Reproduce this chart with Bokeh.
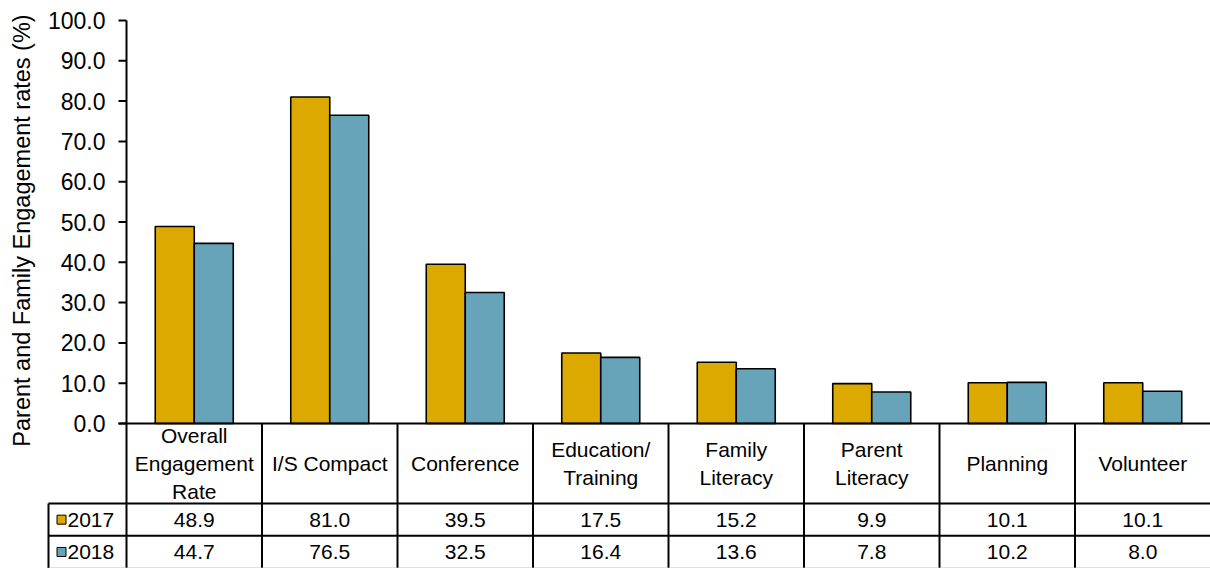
import numpy as np
from bokeh.plotting import figure
from bokeh.models import Range1d
from bokeh.embed import file_html
from bokeh.resources import INLINE
from bokeh.core.properties import value

# ---------------- data ----------------
categories = ["Overall\nEngagement\nRate", "I/S Compact", "Conference",
              "Education/\nTraining", "Family\nLiteracy", "Parent\nLiteracy",
              "Planning", "Volunteer"]
series_names = ["2017", "2018"]
values_2017 = [48.9, 81.0, 39.5, 17.5, 15.2, 9.9, 10.1, 10.1]
values_2018 = [44.7, 76.5, 32.5, 16.4, 13.6, 7.8, 10.2, 8.0]
y_ticks = [0, 10, 20, 30, 40, 50, 60, 70, 80, 90, 100]
tick_labels = ["%.1f" % t for t in y_ticks]
y_label = "Parent and Family Engagement rates (%)"

# ---------------- style / layout ----------------
FONT = "Liberation Sans"
COLORS = ["#DBA900", "#68A4B9"]
W, H = 1210, 568
AXIS_X = 126          # pixel column of the value axis
BASE_Y = 423          # pixel row of value 0
N = len(categories)
PX_PER_CAT = (W - AXIS_X) / N
PX_PER_VAL = 4.03
LINE_W = 2
BAR_PX = 39
TICK_PX = 8
HEADER_PX = 80
ROW_PX = 32.3
TABLE_LEFT_PX = 78


def dx(px):
    return px / PX_PER_CAT


def dy(px):
    return px / PX_PER_VAL


x0, x1 = -dx(AXIS_X), dx(W - AXIS_X)
y0, y1 = -dy(H - BASE_Y), dy(BASE_Y)

p = figure(width=W, height=H, x_range=Range1d(x0, x1), y_range=Range1d(y0, y1),
           x_axis_location=None, y_axis_location=None,
           output_backend="svg", toolbar_location=None,
           min_border_left=0, min_border_right=0,
           min_border_top=0, min_border_bottom=0)
p.grid.visible = False
p.outline_line_color = None
p.background_fill_color = "white"

idx = np.arange(N)
centers = idx + 0.5
bar_w = dx(BAR_PX)

# ---------------- bars ----------------
for k, (vals, col) in enumerate(zip([values_2017, values_2018], COLORS)):
    offset = (k - 0.5) * bar_w
    p.vbar(x=centers + offset, top=vals, bottom=0, width=bar_w,
           fill_color=col, line_color="black", line_width=1.6)

# ---------------- value axis ----------------
ymax = max(y_ticks)
p.segment(x0=[0], y0=[ymax], x1=[0], y1=[y0], line_color="black",
          line_width=LINE_W)
nt = len(y_ticks)
p.segment(x0=[-dx(TICK_PX)] * nt, y0=y_ticks, x1=[0] * nt, y1=y_ticks,
          line_color="black", line_width=LINE_W)
p.text(x=[-dx(TICK_PX + 13)] * nt, y=y_ticks, text=tick_labels,
       text_align="right", text_baseline="middle",
       text_font=value(FONT), text_font_size="23px", text_color="black")
p.text(x=[-dx(AXIS_X - 21)], y=[ymax / 2 - dy(8.5)], text=[y_label],
       angle=np.pi / 2, text_align="center", text_baseline="middle",
       text_font=value(FONT), text_font_size="23.5px", text_color="black")

# baseline (category axis)
p.segment(x0=[-dx(TICK_PX)], y0=[0], x1=[x1], y1=[0],
          line_color="black", line_width=LINE_W)

# ---------------- data table ----------------
x_tl = -dx(TABLE_LEFT_PX)
y_r1 = -dy(HEADER_PX)
y_r2 = -dy(HEADER_PX + ROW_PX)
y_r3 = -dy(HEADER_PX + 2 * ROW_PX)

bx = list(idx[1:])
p.segment(x0=bx, y0=[0] * len(bx), x1=bx, y1=[y0] * len(bx),
          line_color="black", line_width=LINE_W)
p.segment(x0=[x_tl], y0=[y_r1], x1=[x_tl], y1=[y0],
          line_color="black", line_width=LINE_W)
p.segment(x0=[x_tl, x_tl], y0=[y_r1, y_r2], x1=[x1, x1], y1=[y_r1, y_r2],
          line_color="black", line_width=LINE_W)
p.segment(x0=[x_tl], y0=[y_r3], x1=[x1], y1=[y_r3],
          line_color="#b4b4b4", line_width=1)

p.text(x=centers, y=[-dy(HEADER_PX / 2)] * N, text=categories,
       text_align="center", text_baseline="middle",
       text_font=value(FONT), text_font_size="21px", text_color="black",
       text_line_height=1.2)

row_y = [(y_r1 + y_r2) / 2, (y_r2 + y_r3) / 2]
for vals, ry in zip([values_2017, values_2018], row_y):
    p.text(x=centers, y=[ry] * N, text=["%.1f" % v for v in vals],
           text_align="center", text_baseline="middle",
           text_font=value(FONT), text_font_size="21px", text_color="black")

key_x = x_tl + dx(13)
name_x = x_tl + dx(19)
p.scatter(x=[key_x, key_x], y=row_y, marker="square", size=9,
          fill_color=COLORS, line_color="black", line_width=1)
p.text(x=[name_x, name_x], y=row_y, text=series_names,
       text_align="left", text_baseline="middle",
       text_font=value(FONT), text_font_size="21px", text_color="black")

open("out.html", "w").write(file_html(p, INLINE))
